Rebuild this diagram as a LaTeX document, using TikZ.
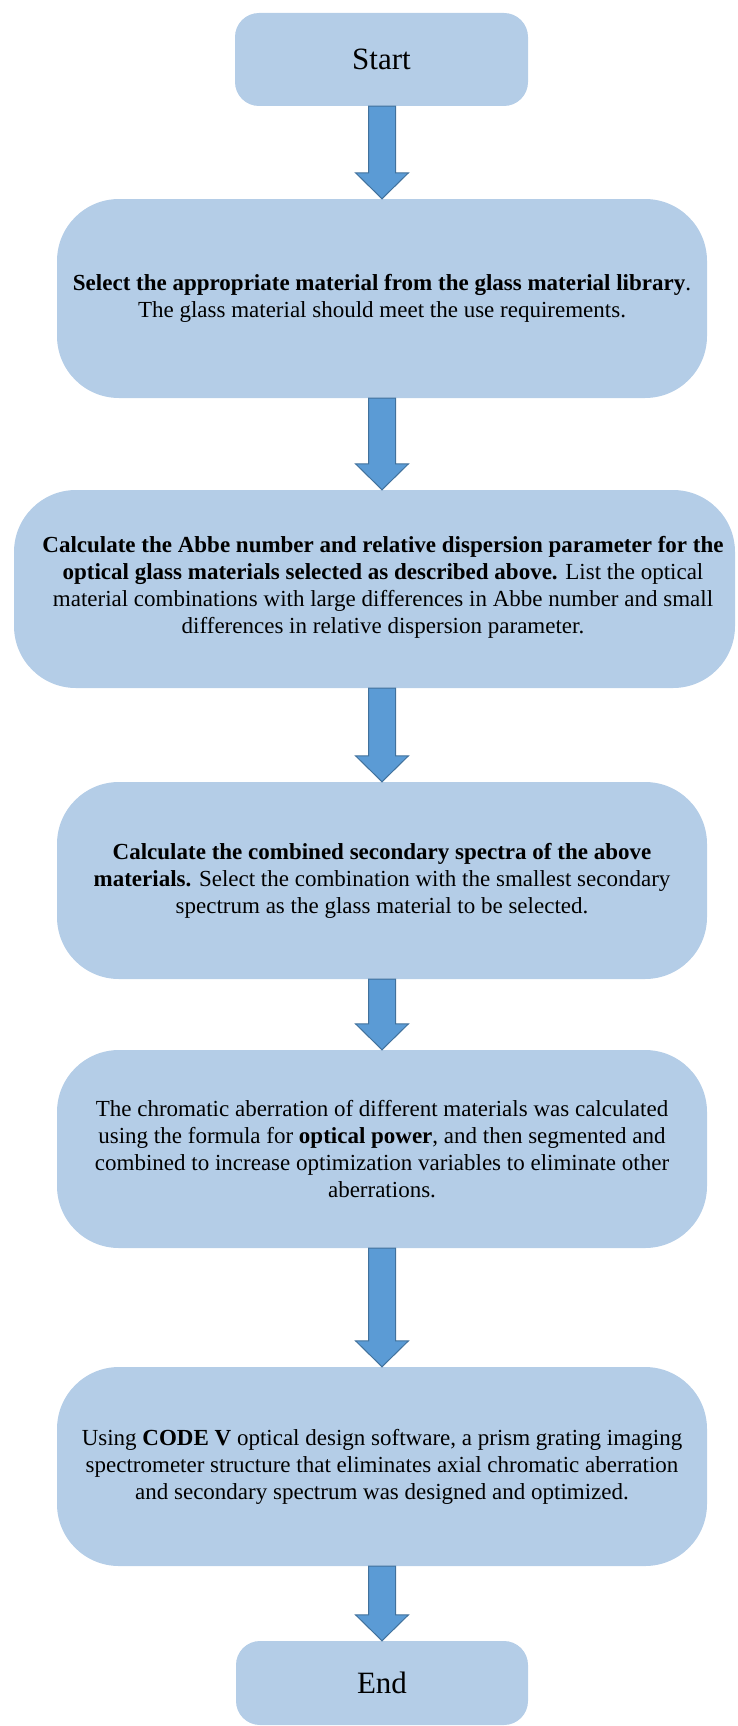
\documentclass[tikz,border=0pt]{standalone}
\usepackage{fontspec}
\setmainfont{Liberation Serif}
\usetikzlibrary{calc}
\definecolor{boxfill}{RGB}{180,205,231}
\definecolor{arrfill}{RGB}{91,155,213}
\definecolor{arrline}{RGB}{65,113,156}
\tikzset{
  bodytext/.style={align=center, inner sep=0pt, font=\fontsize{23}{27}\selectfont},
  bigbox/.style={bodytext, fill=boxfill, draw=none, rounded corners=62pt},
  termbox/.style={fill=boxfill, draw=none, rounded corners=24pt, inner sep=0pt, font=\fontsize{31}{36}\selectfont},
  blockarrow/.style={fill=arrfill, draw=arrline, line width=1pt, line join=miter},
}
\newcommand{\flowarrow}[2]{%
  \draw[blockarrow] let \p1=(#1.south), \p2=(#2.north) in
    (368.5pt,\y1) -- (395.5pt,\y1) -- (395.5pt,\y2+26pt) -- (408.5pt,\y2+26pt)
    -- (382pt,\y2) -- (355.5pt,\y2+26pt) -- (368.5pt,\y2+26pt) -- cycle;}
\begin{document}
\begin{tikzpicture}[x=1pt,y=-1pt]
\useasboundingbox (0,0) rectangle (737,1726);
\node[termbox, minimum width=293pt, minimum height=93pt] (start) at (381.5,59.5) {Start};
\node[bigbox, minimum width=650pt, minimum height=199pt] (b2) at (382,298.5)
  {\textbf{Select the appropriate material from the glass material library}.\\
   The glass material should meet the use requirements.};
\node[bigbox, minimum width=721pt, minimum height=198pt] (b3) at (374.5,589) {};
\node[bodytext] (t3) at (383,587)
  {\textbf{Calculate the Abbe number and relative dispersion parameter for the}\\
   \textbf{optical glass materials selected as described above.} List the optical\\
   material combinations with large differences in Abbe number and small\\
   differences in relative dispersion parameter.};
\node[bigbox, minimum width=650pt, minimum height=197pt] (b4) at (382,880.5)
  {\textbf{Calculate the combined secondary spectra of the above}\\
   \textbf{materials.} Select the combination with the smallest secondary\\
   spectrum as the glass material to be selected.};
\node[bigbox, minimum width=650pt, minimum height=198pt] (b5) at (382,1149)
  {The chromatic aberration of different materials was calculated\\
   using the formula for \textbf{optical power}, and then segmented and\\
   combined to increase optimization variables to eliminate other\\
   aberrations.};
\node[bigbox, minimum width=650pt, minimum height=199pt] (b6) at (382,1466.5)
  {Using \textbf{CODE V} optical design software, a prism grating imaging\\
   spectrometer structure that eliminates axial chromatic aberration\\
   and secondary spectrum was designed and optimized.};
\node[termbox, minimum width=292pt, minimum height=84pt] (end) at (382,1683) {End};
\flowarrow{start}{b2}
\flowarrow{b2}{b3}
\flowarrow{b3}{b4}
\flowarrow{b4}{b5}
\flowarrow{b5}{b6}
\flowarrow{b6}{end}
\end{tikzpicture}
\end{document}
